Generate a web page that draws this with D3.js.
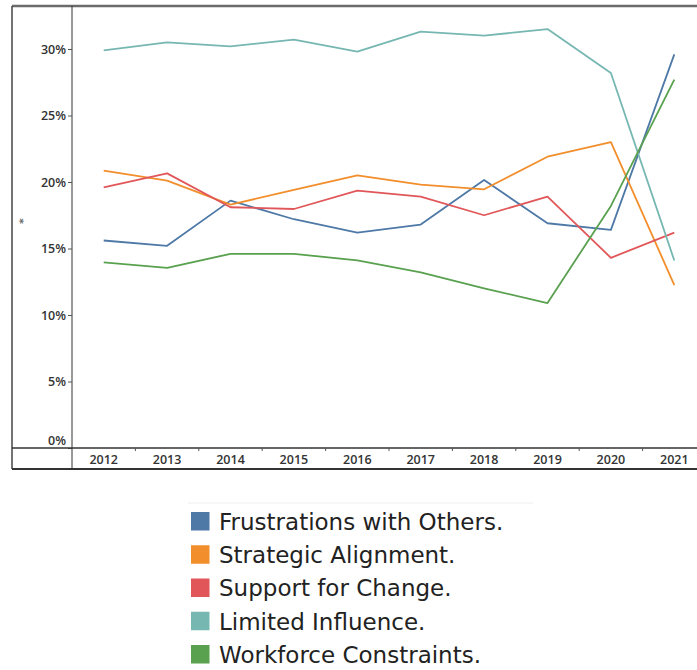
<!DOCTYPE html>
<html>
<head>
<meta charset="utf-8">
<script src="https://cdn.jsdelivr.net/npm/d3@7"></script>
<style>
  body { margin: 0; background: #fff; }
  svg { display: block; }
</style>
</head>
<body>
<div id="chart"></div>
<script>
// data
const years = ["2012","2013","2014","2015","2016","2017","2018","2019","2020","2021"];
const seriesNames = ["Frustrations with Others.", "Strategic Alignment.", "Support for Change.", "Limited Influence.", "Workforce Constraints."];
const seriesColors = ["#4e79a7", "#f28e2b", "#e15759", "#76b7b2", "#59a14f"];
const frustrations = [15.6, 15.2, 18.6, 17.2, 16.2, 16.8, 20.15, 16.9, 16.4, 29.6];
const strategic    = [20.85, 20.1, 18.3, 19.4, 20.5, 19.8, 19.45, 21.9, 23.0, 12.25];
const support      = [19.6, 20.65, 18.1, 17.97, 19.35, 18.9, 17.5, 18.9, 14.3, 16.2];
const limited      = [29.9, 30.5, 30.2, 30.7, 29.8, 31.3, 31.0, 31.5, 28.2, 14.1];
const workforce    = [13.96, 13.55, 14.6, 14.6, 14.1, 13.2, 12.0, 10.9, 18.2, 27.7];
const yTicks = [0, 5, 10, 15, 20, 25, 30];

const allSeries = [frustrations, strategic, support, limited, workforce];

const width = 697, height = 670;
const svg = d3.select("#chart").append("svg")
  .attr("width", width).attr("height", height);

const frameLeft = 12, frameTop = 6, axisX = 72, axisY = 448, frameBottom = 469;

const x = d3.scaleBand()
  .domain(years)
  .range([axisX, 706]);

const y = d3.scaleLinear()
  .domain([0, 30])
  .range([axisY, 49]);

// frame lines
svg.append("line")
  .attr("x1", frameLeft).attr("x2", width).attr("y1", frameTop).attr("y2", frameTop)
  .attr("stroke", "#6b6b6b").attr("stroke-width", 2.5);
svg.append("line")
  .attr("x1", frameLeft).attr("x2", frameLeft).attr("y1", frameTop).attr("y2", frameBottom)
  .attr("stroke", "#444").attr("stroke-width", 1.5);
svg.append("line")
  .attr("x1", frameLeft).attr("x2", width).attr("y1", frameBottom).attr("y2", frameBottom)
  .attr("stroke", "#333").attr("stroke-width", 2);

// y axis
const yAxis = g => g
  .attr("transform", `translate(${axisX},0)`)
  .call(d3.axisLeft(y).tickValues(yTicks).tickFormat(d => d + "%").tickSize(4).tickSizeOuter(0))
  .call(g => g.select(".domain").attr("d", `M0,${frameTop}V${frameBottom}`).attr("stroke", "#333"))
  .call(g => g.selectAll(".tick line").attr("stroke", "#555"))
  .call(g => g.selectAll(".tick text")
    .attr("x", -6)
    .attr("dy", d => d === 0 ? "-0.3em" : "0.34em")
    .style("font", "600 12.5px 'Open Sans', sans-serif")
    .style("fill", "#333"));
svg.append("g").call(yAxis);

// x axis
svg.append("line")
  .attr("x1", frameLeft).attr("x2", width).attr("y1", axisY).attr("y2", axisY)
  .attr("stroke", "#333").attr("stroke-width", 1.5);

const xAxis = g => g
  .attr("transform", `translate(0,${axisY})`)
  .call(d3.axisBottom(x).tickSize(0).tickSizeOuter(0))
  .call(g => g.select(".domain").remove())
  .call(g => g.selectAll(".tick text")
    .attr("y", 7)
    .attr("dy", "0.71em")
    .style("font", "600 12.5px 'Open Sans', sans-serif")
    .style("fill", "#333"));
svg.append("g").call(xAxis);

// small ticks between the year bands
svg.append("g")
  .selectAll("line")
  .data(years.slice(1))
  .join("line")
    .attr("x1", d => x(d)).attr("x2", d => x(d))
    .attr("y1", axisY).attr("y2", axisY + 3)
    .attr("stroke", "#555");

// tiny y axis title
svg.append("text")
  .attr("transform", "translate(27,221) rotate(-90)")
  .attr("text-anchor", "middle")
  .style("font", "bold 11px 'DejaVu Sans', sans-serif")
  .style("fill", "#666")
  .text("*");

// lines
const line = d3.line()
  .x((d, i) => x(years[i]) + x.bandwidth() / 2)
  .y(d => y(d));

svg.append("g")
  .selectAll("path")
  .data(allSeries)
  .join("path")
    .attr("fill", "none")
    .attr("stroke", (d, i) => seriesColors[i])
    .attr("stroke-width", 1.8)
    .attr("stroke-linejoin", "round")
    .attr("d", line);

// legend
svg.append("line")
  .attr("x1", 188).attr("x2", 533).attr("y1", 503).attr("y2", 503)
  .attr("stroke", "#eee");

const legendY = d3.scalePoint()
  .domain(seriesNames)
  .range([521.5, 654.5]);

const legend = svg.append("g")
  .selectAll("g")
  .data(seriesNames)
  .join("g")
    .attr("transform", d => `translate(191,${legendY(d)})`);

legend.append("rect")
  .attr("x", 0).attr("y", -9.5)
  .attr("width", 18.5).attr("height", 18.5)
  .attr("fill", (d, i) => seriesColors[i]);

legend.append("text")
  .attr("x", 28)
  .attr("dy", "0.36em")
  .style("font", "23px 'DejaVu Sans', sans-serif")
  .style("fill", "#222")
  .text(d => d);
</script>
</body>
</html>
